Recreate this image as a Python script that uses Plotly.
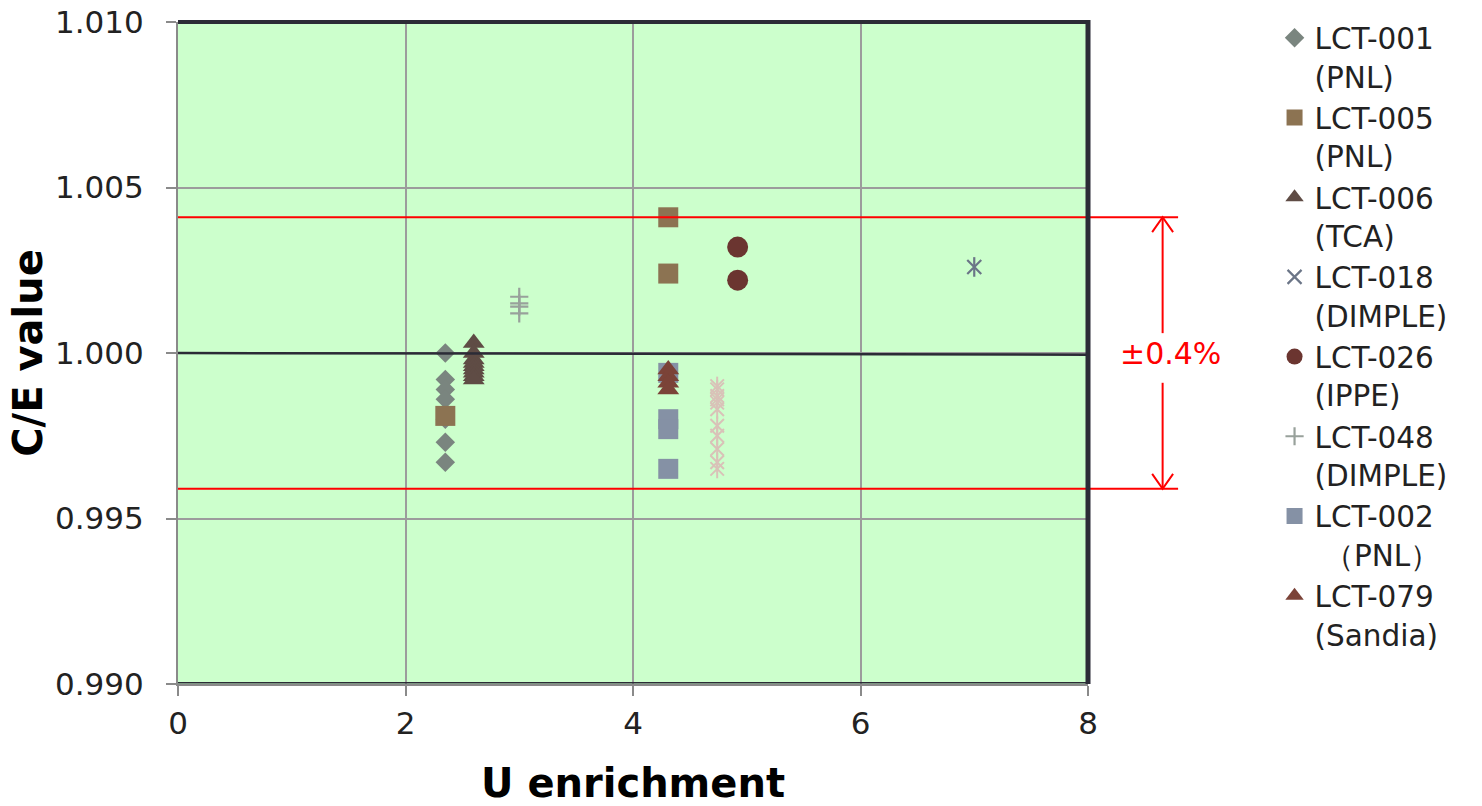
import plotly.graph_objects as go

# ---- data ----
x001 = [2.35, 2.35, 2.35, 2.35, 2.35, 2.35, 2.35]
y001 = [1.0000, 0.9992, 0.9989, 0.9986, 0.9980, 0.9973, 0.9967]

x005 = [2.35, 4.31, 4.31]
y005 = [0.9981, 1.0041, 1.0024]

x006 = [2.60] * 9
y006 = [1.0003, 1.0000, 0.9998, 0.9997, 0.9996, 0.9995, 0.9994, 0.9993, 0.9992]

x018 = [7.00]
y018 = [1.0026]

x026 = [4.92, 4.92]
y026 = [1.0032, 1.0022]

x048 = [3.00, 3.00, 3.00, 3.00]
y048 = [1.0017, 1.0015, 1.0014, 1.0012]

x002 = [4.31, 4.31, 4.31, 4.31]
y002 = [0.9994, 0.9980, 0.9977, 0.9965]

x079 = [4.31, 4.31, 4.31, 4.31]
y079 = [0.9995, 0.9993, 0.9991, 0.9989]

x_other = [4.74] * 11
y_other = [0.9990, 0.9989, 0.9987, 0.9986, 0.9985, 0.9983, 0.9978, 0.9975, 0.9971, 0.9967, 0.9965]

ref_x = [0, 8]
ref_y = [1.0000, 0.99995]

band = 0.0041          # red limit lines at 1 +/- band
band_label = "\u00b10.4%"

x_ticks = [0, 2, 4, 6, 8]
y_ticks = [0.990, 0.995, 1.000, 1.005, 1.010]

FONT = "DejaVu Sans"

fig = go.Figure()

def add(name, x, y, symbol, color, size, lw=0, showlegend=True, group=None):
    fig.add_trace(go.Scatter(
        x=x, y=y, mode="markers", name=name, showlegend=showlegend,
        legendgroup=group or name,
        marker=dict(symbol=symbol, color=color, size=size,
                    line=dict(width=lw, color=color)),
        hoverinfo="x+y+name"))

add("LCT-001<br>(PNL)", x001, y001, "diamond", "#7a857f", 15)
add("LCT-005<br>(PNL)", x005, y005, "square", "#8c7352", 20)
add("LCT-006<br>(TCA)", x006, y006, "triangle-up", "#5f4c45", 19)
add("LCT-018<br>(DIMPLE)", x018, y018, "x-thin-open", "#6b7587", 14, lw=2.2)
fig.add_trace(go.Scatter(x=x018, y=y018, mode="markers", showlegend=False,
                         legendgroup="LCT-018<br>(DIMPLE)",
                         marker=dict(symbol="line-ns-open", size=14, color="#6b7587",
                                     line=dict(width=2.2, color="#6b7587")),
                         hoverinfo="skip"))
add("LCT-026<br>(IPPE)", x026, y026, "circle", "#6b3530", 21)
add("LCT-048<br>(DIMPLE)", x048, y048, "cross-thin-open", "#98a19b", 13, lw=2.2)
add("LCT-002<br>\u00a0\uff08PNL\uff09", x002, y002, "square", "#8591a5", 20)
add("LCT-079<br>(Sandia)", x079, y079, "triangle-up", "#7b4338", 19)

# unlabeled series (not in legend)
add("other", x_other, y_other, "x-thin-open", "#d9c2b8", 13.5, lw=2, showlegend=False)
fig.add_trace(go.Scatter(x=x_other, y=y_other, mode="markers", showlegend=False,
                         legendgroup="other",
                         marker=dict(symbol="line-ns-open", size=13.5, color="#d9c2b8",
                                     line=dict(width=2, color="#d9c2b8")),
                         hoverinfo="skip"))

# reference line at C/E = 1
fig.add_trace(go.Scatter(x=ref_x, y=ref_y, mode="lines", showlegend=False,
                         line=dict(color="#2b2b36", width=2.5), hoverinfo="skip"))

shapes = []
# red limit lines extending beyond plot area
for v in (1 + band, 1 - band):
    shapes.append(dict(type="line", xref="paper", yref="y", x0=0, x1=1.099, y0=v, y1=v,
                       line=dict(color="#ff0000", width=2)))
# double arrow
ax = 1.082
shapes.append(dict(type="line", xref="paper", yref="y", x0=ax, x1=ax,
                   y0=1 + band, y1=1.0006, line=dict(color="#ff0000", width=2)))
shapes.append(dict(type="line", xref="paper", yref="y", x0=ax, x1=ax,
                   y0=0.9991, y1=1 - band, line=dict(color="#ff0000", width=2)))
dx = 0.0115
dy = 0.00045
shapes.append(dict(type="path", xref="paper", yref="y",
                   path=f"M {ax-dx},{1+band-dy} L {ax},{1+band} L {ax+dx},{1+band-dy}",
                   line=dict(color="#ff0000", width=2)))
shapes.append(dict(type="path", xref="paper", yref="y",
                   path=f"M {ax-dx},{1-band+dy} L {ax},{1-band} L {ax+dx},{1-band+dy}",
                   line=dict(color="#ff0000", width=2)))
# dark plot frame on top and right
shapes.append(dict(type="line", xref="paper", yref="paper", x0=0, x1=1.002, y0=1, y1=1,
                   line=dict(color="#2b2b36", width=4)))
shapes.append(dict(type="line", xref="paper", yref="paper", x0=1, x1=1, y0=0, y1=1.003,
                   line=dict(color="#2b2b36", width=5)))
shapes.append(dict(type="line", xref="paper", yref="paper", x0=0, x1=1, y0=0.002, y1=0.002,
                   line=dict(color="#2b2b36", width=1.5)))

fig.update_layout(
    width=1482, height=806,
    margin=dict(l=178, r=394, t=22, b=122, autoexpand=False),
    paper_bgcolor="white",
    plot_bgcolor="#ccffcc",
    font=dict(family=FONT, size=30, color="#222222"),
    shapes=shapes,
    annotations=[dict(xref="paper", yref="y", x=1.091, y=0.99997, text=band_label,
                      showarrow=False, font=dict(family=FONT, size=30, color="#ff0000"),
                      xanchor="center", yanchor="middle", bgcolor="#ffffff")],
    legend=dict(x=1.205, y=0.985, xanchor="left", yanchor="top", yref="container",
                maxheight=800,
                font=dict(family=FONT, size=29.5, color="#222222"),
                valign="top", tracegroupgap=0, itemsizing="trace",
                bgcolor="rgba(0,0,0,0)"),
    showlegend=True,
)

fig.update_xaxes(
    range=[0, 8], tickvals=x_ticks, ticktext=[str(v) for v in x_ticks],
    automargin=False,
    showgrid=True, gridcolor="#9c9c9c", gridwidth=1.5, zeroline=False,
    showline=True, linecolor="#8a8a8a", linewidth=2,
    ticks="outside", ticklen=10, tickwidth=2, tickcolor="#8a8a8a",
    tickfont=dict(family=FONT, size=31, color="#222222"),
    ticklabelstandoff=1,
    title=dict(text="U enrichment", standoff=40,
               font=dict(family=FONT, size=40, color="#000000", weight="bold")),
)
fig.update_yaxes(
    range=[0.990, 1.010], tickvals=y_ticks, ticktext=[f"{v:.3f}" for v in y_ticks],
    automargin=False,
    showgrid=True, gridcolor="#9c9c9c", gridwidth=1.5, zeroline=False,
    showline=True, linecolor="#8a8a8a", linewidth=2,
    ticks="outside", ticklen=10, tickwidth=2, tickcolor="#8a8a8a",
    tickfont=dict(family=FONT, size=31, color="#222222"),
    ticklabelstandoff=16,
    title=dict(text="C/E value", standoff=0,
               font=dict(family=FONT, size=40, color="#000000", weight="bold")),
)

fig.write_html("out.html", config={"displayModeBar": False},
               post_script="document.body.style.margin='0';document.body.style.overflow='hidden';")
